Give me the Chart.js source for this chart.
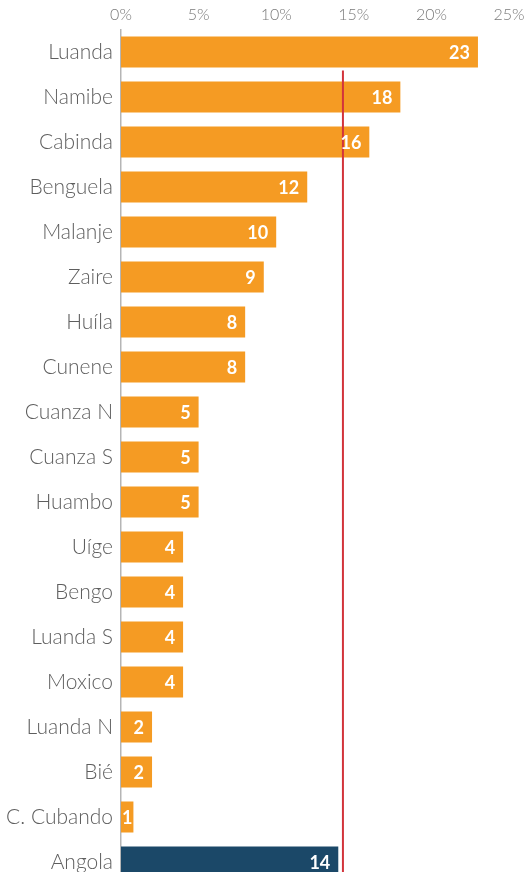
<!DOCTYPE html>
<html>
<head>
<meta charset="utf-8">
<script src="https://cdn.jsdelivr.net/npm/chart.js@4/dist/chart.umd.min.js"></script>
<style>
  html, body { margin: 0; padding: 0; background: #fff; overflow: hidden; }
  #chart { position: absolute; left: 0; top: 0; }
</style>
</head>
<body>
<canvas id="chart" width="525" height="905"></canvas>
<script>
// Provinces, share (%)
var provinces = ['Luanda', 'Namibe', 'Cabinda', 'Benguela', 'Malanje', 'Zaire', 'Huíla', 'Cunene',
  'Cuanza N', 'Cuanza S', 'Huambo', 'Uíge', 'Bengo', 'Luanda S', 'Moxico', 'Luanda N', 'Bié',
  'C. Cubando', 'Angola'];
var shares = [23, 18, 16, 12, 10, 9.2, 8, 8, 5, 5, 5, 4, 4, 4, 4, 2, 2, 0.8, 14];
var xTicks = [0, 5, 10, 15, 20, 25];
var refLine = 14.3;

var orange = '#F59B23', navy = '#1B4868', red = '#D2343B';
var barColors = provinces.map(function(p) { return p === 'Angola' ? navy : orange; });

var valueLabels = {
  id: 'valueLabels',
  afterDatasetsDraw: function(chart) {
    var ctx = chart.ctx;
    var meta = chart.getDatasetMeta(0);
    ctx.save();
    ctx.font = 'bold 18px Lato';
    ctx.fillStyle = '#fff';
    ctx.textBaseline = 'middle';
    meta.data.forEach(function(bar, i) {
      var txt = String(Math.round(shares[i]));
      var w = ctx.measureText(txt).width;
      var len = bar.x - bar.base;
      if (len < w + 16) {
        ctx.textAlign = 'center';
        ctx.fillText(txt, bar.base + len / 2, bar.y + 1);
      } else {
        ctx.textAlign = 'right';
        ctx.fillText(txt, bar.x - 8, bar.y + 1);
      }
    });
    ctx.restore();
  }
};

var refLinePlugin = {
  id: 'refLine',
  afterDatasetsDraw: function(chart) {
    var ctx = chart.ctx;
    var x = chart.scales.x.getPixelForValue(refLine);
    var first = chart.getDatasetMeta(0).data[0];
    var top = first.y + first.height / 2 + 3;
    ctx.save();
    ctx.strokeStyle = red;
    ctx.lineWidth = 2;
    ctx.beginPath();
    ctx.moveTo(x, top);
    ctx.lineTo(x, chart.chartArea.bottom);
    ctx.stroke();
    ctx.restore();
  }
};

new Chart(document.getElementById('chart').getContext('2d'), {
  type: 'bar',
  data: {
    labels: provinces,
    datasets: [{
      data: shares,
      backgroundColor: barColors,
      borderWidth: 0,
      categoryPercentage: 1,
      barPercentage: 0.69
    }]
  },
  options: {
    indexAxis: 'y',
    responsive: false,
    animation: false,
    layout: { padding: { left: 0, right: 16, top: 0, bottom: 0 } },
    plugins: { legend: { display: false }, tooltip: { enabled: false } },
    scales: {
      x: {
        position: 'top',
        min: 0, max: 25,
        afterBuildTicks: function(scale) { scale.ticks = xTicks.map(function(v) { return { value: v }; }); },
        afterFit: function(scale) { scale.height = 29.5; scale.paddingRight = 0; scale.paddingLeft = 0; },
        grid: { display: false, drawTicks: false },
        border: { display: false },
        ticks: {
          padding: 5,
          color: '#7a7a7a',
          font: { family: 'Lato', size: 16, weight: '300' },
          callback: function(v) { return v + '%'; }
        }
      },
      y: {
        afterFit: function(scale) { scale.width = 121; },
        grid: { display: false, drawTicks: false },
        border: { display: true, color: '#b5b5b5', width: 1.5 },
        ticks: {
          padding: 8,
          color: '#5e5e5e',
          font: { family: 'Lato', size: 21, weight: '300' }
        }
      }
    }
  },
  plugins: [refLinePlugin, valueLabels]
});
</script>
</body>
</html>
